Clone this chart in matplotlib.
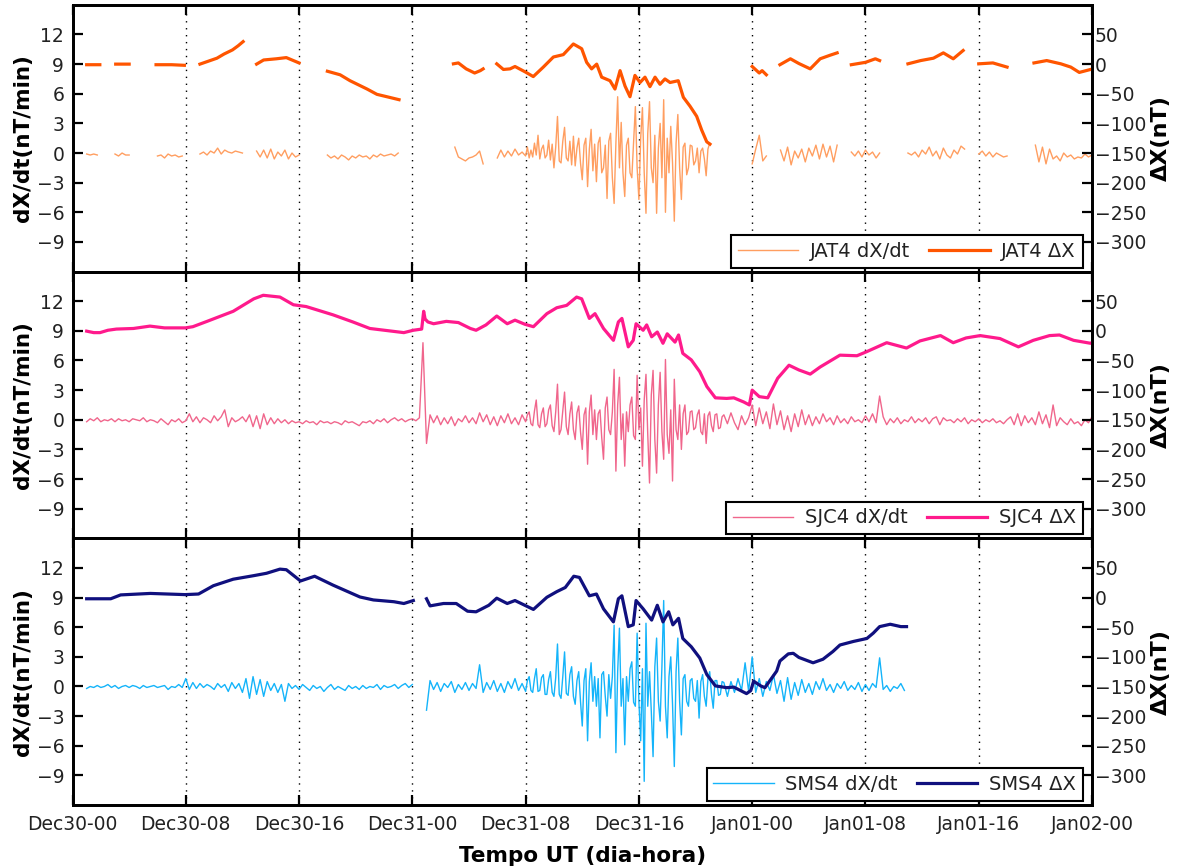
import numpy as np
import matplotlib
matplotlib.use('Agg')
import matplotlib.pyplot as plt

nan = np.nan

# x axis: hours since Dec30-00 UT
tick_hours = [0, 8, 16, 24, 32, 40, 48, 56, 64, 72]
tick_labels = ['Dec30-00', 'Dec30-08', 'Dec30-16', 'Dec31-00', 'Dec31-08',
               'Dec31-16', 'Jan01-00', 'Jan01-08', 'Jan01-16', 'Jan02-00']

# dX/dt (nT/min), one value every 15 min from Dec30-00 (289 values), nan = no data
jat_dxdt = [
    nan, nan, nan, nan, -0.1, -0.2, -0.1, -0.2, nan, nan, nan, nan, -0.1, -0.3, 0.0, -0.2,
    -0.2, *[nan] * 7, -0.3, -0.2, -0.5, -0.1, -0.3, -0.2, -0.4, -0.3,
    nan, nan, nan, nan, -0.1, 0.1, -0.2, 0.2, 0.0, 0.5, -0.1, 0.3, 0.1, 0.0, 0.2, 0.1,
    0.0, nan, nan, nan, 0.2, -0.4, 0.3, -0.5, 0.4, -0.6, 0.1, -0.3, 0.3, -0.6, 0.0, -0.4,
    -0.2, *[nan] * 7, -0.2, -0.5, -0.3, -0.6, -0.2, -0.4, -0.7, -0.3,
    -0.5, -0.2, -0.4, -0.3, -0.6, -0.2, -0.4, -0.1, -0.3, -0.2, -0.1, -0.3, 0.0, nan, nan, nan,
    *[nan] * 12, 0.6, -0.4, -0.6, -0.8,
    -0.5, -0.4, -0.2, 0.2, -1.1, nan, nan, nan, -0.5, 0.3, -0.4, 0.2, -0.3, 0.4, -0.2, 0.1,
    -0.3, 0.5, -0.4, 1.8, -0.2, 0.8, -0.6, 1.2, -1.5, 3.7, -1.0, 2.6, -0.8, 1.7, -1.3, 1.5,
    -2.7, 1.5, -3.4, 2.4, -2.9, 1.6, -1.5, -4.6, 2.0, -5.1, 5.7, 3.1, -4.4, 1.5, -2.5, 4.7,
    -4.7, 4.6, -6.1, 5.2, -3.0, -6.1, 3.0, 5.4, -6.0, 2.7, -6.9, 3.9, -4.7, 1.0, -1.5, 0.7,
    -0.8, -2.0, 0.5, -2.3, 1.0, *[nan] * 11,
    -1.1, 0.4, 1.8, -0.8, -0.3, nan, nan, nan, 0.3, -0.8, 0.6, -1.2, 0.2, -0.5, 0.4, -0.9,
    0.5, -0.3, 0.8, -0.6, 0.9, -0.4, 0.7, -0.9, 0.8, nan, nan, nan, 0.1, -0.3, 0.2, -0.4,
    0.3, -0.2, 0.1, -0.5, 0.0, *[nan] * 7, 0.0, -0.2, 0.1, -0.4,
    0.3, -0.1, 0.6, -0.3, 0.2, -0.6, 0.5, -0.2, -0.5, 0.3, -0.1, 0.7, 0.4, nan, nan, nan,
    -0.1, 0.2, -0.3, 0.1, -0.4, 0.0, -0.2, -0.4, -0.3, *[nan] * 7,
    0.8, -0.9, 0.6, -1.1, 0.4, -0.6, -0.3, -0.8, 0.0, -0.4, -0.2, -0.6, -0.4, -0.5, -0.1, -0.4,
    -0.2,
]
sjc_dxdt = [
    nan, nan, nan, nan, -0.2, 0.1, -0.1, 0.2, -0.2, 0.0, -0.1, 0.1, -0.2, 0.1, -0.1, 0.0,
    -0.2, 0.1, 0.0, -0.1, 0.2, -0.2, 0.0, -0.1, -0.3, 0.1, -0.2, -0.5, 0.0, -0.2, 0.1, -0.3,
    -0.1, 0.6, -0.2, 0.3, -0.3, 0.2, 0.0, -0.3, 0.4, -0.1, 0.3, 1.0, -0.7, 0.2, -0.2, 0.0,
    0.3, -0.2, 0.5, -0.7, 0.4, -0.9, 0.6, -0.5, 0.2, -0.4, 0.1, -0.3, 0.0, -0.4, -0.1, -0.3,
    -0.2, -0.4, -0.1, -0.3, -0.2, -0.5, -0.1, -0.3, -0.2, -0.4, -0.2, -0.3, -0.5, -0.1, -0.3, -0.2,
    -0.4, -0.6, -0.2, -0.3, -0.1, -0.4, 0.0, -0.2, 0.1, -0.3, 0.0, 0.2, -0.1, 0.1, -0.2, 0.0,
    0.1, -0.1, 0.2, 7.8, -2.4, 0.5, -0.3, 0.4, -0.5, 0.2, -0.4, 0.3, -0.6, 0.1, -0.2, 0.4,
    -0.3, 0.2, -0.4, 0.7, -0.2, 0.5, -0.5, 0.3, -0.6, 0.4, -0.3, 0.6, -0.4, 0.2, -0.5, 0.5,
    -0.2, 0.8, -0.6, 2.0, -0.8, 1.2, -0.4, 1.5, -1.2, 3.6, -1.0, 2.8, -1.5, 1.8, -2.0, 1.4,
    -3.0, 1.2, -4.5, 2.5, -2.0, 1.0, -4.0, 2.3, -1.5, 5.1, -5.2, 4.3, -4.7, -1.2, 2.3, -2.0,
    4.5, -4.7, 4.6, -6.4, 5.0, -5.4, 4.8, -4.0, 6.1, -3.4, -6.2, 4.1, -3.0, 1.5, -1.2, 0.9,
    -0.8, 1.0, -1.5, -2.4, 0.8, -1.2, 0.6, -0.8, 0.5, -0.4, 0.7, -0.3, -1.0, 0.4, -0.5, 0.2,
    1.5, -0.6, 1.2, -0.4, 0.8, -0.9, 1.6, -0.5, 0.9, -1.0, 0.4, -1.2, 0.6, -0.7, 1.0, -0.5,
    0.5, -0.6, 0.3, -0.4, 0.6, -0.2, 0.2, -0.5, 0.4, -0.3, 0.1, -0.4, 0.3, -0.2, 0.0, -0.3,
    0.4, -0.2, 0.6, -0.3, 2.4, 0.3, -0.5, 0.1, -0.3, 0.2, -0.4, 0.0, -0.2, 0.3, -0.3, 0.1,
    -0.2, 0.2, -0.4, 0.1, 0.3, -0.5, 0.2, -0.1, 0.0, -0.3, 0.1, -0.2, 0.2, -0.4, 0.0, -0.2,
    0.1, -0.3, 0.0, -0.2, 0.1, -0.3, -0.1, -0.4, 0.0, 0.3, -0.5, 0.6, -0.6, 0.4, -0.3, 0.2,
    -0.5, 0.8, -0.4, 0.5, -0.8, 1.5, -0.6, 0.2, -0.2, -0.5, 0.1, -0.4, -0.2, -0.6, 0.0, -0.3,
    0.3,
]
sms_dxdt = [
    nan, nan, nan, nan, -0.2, 0.0, -0.1, 0.1, -0.1, 0.0, 0.2, -0.1, 0.1, -0.2, 0.0, 0.1,
    -0.1, 0.1, 0.0, -0.2, 0.1, -0.1, 0.0, 0.1, -0.1, 0.0, 0.1, -0.3, 0.0, -0.1, 0.2, -0.1,
    0.8, -0.3, 0.4, -0.2, 0.3, -0.1, 0.2, 0.0, -0.3, 0.3, -0.1, 0.2, -0.5, 0.4, -0.2, 0.3,
    -0.6, 0.8, -1.2, 1.0, -0.8, 0.7, -1.0, 0.5, -0.4, 0.3, -0.6, 0.2, -1.5, 0.3, -0.2, 0.1,
    -0.3, 0.2, -0.1, -0.4, 0.1, -0.2, 0.0, -0.5, -0.1, 0.2, -0.3, 0.0, -0.2, -0.4, 0.1, -0.2,
    0.0, -0.3, 0.1, -0.2, 0.0, -0.1, 0.2, -0.3, 0.1, -0.1, 0.0, 0.2, -0.2, 0.1, 0.3, -0.1,
    0.2, nan, nan, nan, -2.4, 0.6, -0.3, 0.4, -0.5, 0.3, -0.1, 0.5, -0.6, 0.2, -0.3, 0.4,
    -0.4, 0.3, -0.2, 2.2, -0.6, 0.4, -0.3, 0.6, -0.5, 0.3, -0.6, 0.5, -0.2, 0.8, -0.4, 0.3,
    -0.5, 1.0, -0.6, 1.8, -0.4, 1.2, -0.8, 1.5, -1.0, 4.3, -1.2, 3.5, -0.9, 2.0, -1.8, 1.5,
    -4.0, 1.8, -5.5, 2.4, -2.0, -5.2, 1.5, -3.0, -1.2, 6.2, -6.7, 5.9, -5.9, -1.5, 2.5, -2.0,
    5.4, -5.5, -9.6, 6.4, -7.1, 4.9, -3.5, 8.7, -5.2, 3.0, -8.1, 4.9, -4.9, 1.2, -2.0, 0.8,
    -1.5, -3.2, 1.2, -2.0, 1.5, -2.2, 0.6, -0.8, 0.4, -1.0, 0.5, -0.6, 0.8, -0.4, 2.4, -0.5,
    3.0, -0.6, 0.8, -1.0, 0.5, -0.4, 1.2, -0.7, 0.6, -1.5, 0.9, -1.3, 0.4, -0.9, 0.7, -0.6,
    0.3, -0.8, 0.5, -0.3, 0.8, -0.4, 0.2, -0.6, 0.3, -0.2, 0.5, -0.4, 0.1, -0.3, 0.4, -0.5,
    0.2, -0.4, 0.3, -0.1, 2.9, -0.3, 0.1, -0.5, 0.0, -0.2, 0.3, -0.4, nan, nan, nan, nan,
    *[nan] * 48,
    nan,
]

# storm interval Dec31-08 .. Dec31-22: dX/dt every 7.5 min (113 values), replaces the grid above
jat_storm = [
    -0.3, 0.6, -0.5, 0.3, -0.4, 1.0, -0.2, 1.8,
    -0.6, 0.4, 0.8, -0.5, -0.2, 1.3, -0.7, 0.9,
    -1.5, 0.6, 3.7, -0.8, -1.0, 1.2, 2.6, -0.5,
    -0.8, 1.2, -1.2, 1.7, -1.3, 0.5, 1.5, -1.0,
    -2.7, 0.8, 1.5, -3.4, 0.4, 2.4, -1.8, 0.9,
    -2.9, 1.0, 1.6, -2.0, -1.5, 0.8, -4.6, 1.2,
    2.0, -2.5, -5.1, 1.0, 5.7, -1.5, 3.1, -2.0,
    -4.4, 0.8, 1.5, -2.0, -2.5, 1.2, 4.7, -1.5,
    -4.7, 1.5, 4.6, -2.0, -6.1, 2.0, 5.2, -1.5,
    -3.0, 1.8, -6.1, 0.5, 3.0, -2.5, 5.4, -6.0,
    1.5, -2.0, 2.7, -1.0, -6.9, 1.0, 3.9, -1.5,
    -4.7, 0.6, 1.0, -2.2, -1.5, 0.8, 0.7, -1.2,
    -0.8, 0.5, -2.0, 0.2, 0.5, -0.6, -2.3, 0.4,
    1.0, *[nan] * 7,
    nan,
]
sjc_storm = [
    -0.2, 0.5, 0.8, -0.4, -0.6, 0.9, 2.0, -0.5,
    -0.8, 0.6, 1.2, -0.7, -0.4, 1.0, 1.5, -0.6,
    -1.2, 0.8, 3.6, -1.5, -1.0, 0.9, 2.8, -0.7,
    -1.5, 0.6, 1.8, -1.0, -2.0, 0.7, 1.4, -1.2,
    -3.0, 0.5, 1.2, -4.5, 0.8, 2.5, -1.5, 1.0,
    -2.0, 0.6, 1.0, -1.8, -4.0, 1.2, 2.3, -1.0,
    -1.5, 0.8, 5.1, -5.2, 1.5, 4.3, -2.0, 0.6,
    -4.7, 0.8, -1.2, 1.5, 2.3, -1.6, -2.0, 4.5,
    -1.0, 1.2, -4.7, 2.0, 4.6, -1.5, -6.4, 2.5,
    5.0, -2.0, -5.4, 1.5, 4.8, -1.2, -4.0, 6.1,
    -1.5, -3.4, 1.0, -6.2, 4.1, -1.0, -2.0, 1.5,
    -3.0, 0.6, 1.5, -1.5, -1.2, 0.8, 0.9, -1.0,
    -0.8, 0.5, 1.0, -1.2, -1.5, 0.6, -2.4, 0.4,
    0.8, -0.6, -1.2, 0.5, 0.6, -0.9, -0.8, 0.3,
    0.5,
]
sms_storm = [
    -0.5, 0.6, 1.0, -0.4, -0.6, 0.8, 1.8, -0.5,
    -0.4, 0.9, 1.2, -0.8, -0.8, 0.7, 1.5, -0.6,
    -1.0, 0.9, 4.3, -0.8, -1.2, 1.0, 3.5, -0.7,
    -0.9, 1.2, 2.0, -1.0, -1.8, 0.6, 1.5, -1.5,
    -4.0, 0.6, 1.8, -5.5, 0.5, 2.4, -1.5, 1.0,
    -2.0, 0.8, -5.2, 1.2, 1.5, -1.0, -3.0, 1.2,
    -1.2, 1.0, 6.2, -6.7, 1.5, 5.9, -2.0, 0.8,
    -5.9, 1.0, -1.5, 1.8, 2.5, -1.6, -2.0, 5.4,
    -1.5, -5.5, 1.8, -9.6, 6.4, -2.0, 1.5, -2.5,
    -7.1, 2.0, 4.9, -1.5, -3.5, 2.0, 8.7, -2.0,
    -5.2, 1.0, 3.0, -1.8, -8.1, 1.5, 4.9, -1.5,
    -4.9, 0.8, 1.2, -1.5, -2.0, 0.6, 0.8, -1.2,
    -1.5, 0.6, -3.2, 0.5, 1.2, -1.0, -2.0, 0.8,
    1.5, -0.8, -2.2, 0.6, 0.6, -0.9, -0.8, 0.5,
    0.4,
]

# Delta X (nT) as (hour, value) pairs, a nan pair breaks the line
jat_dx = [
    (1.0, -1), (1.93, -1), (nan, nan), (3.05, 0), (4.0, 0), (nan, nan),
    (5.9, -1), (7.0, -1), (7.9, -2), (nan, nan),
    (9.0, 0), (9.6, 5), (10.2, 10), (10.7, 17), (11.3, 24), (11.7, 31), (12.05, 38), (nan, nan),
    (13.0, 0), (13.5, 7), (14.4, 9), (15.1, 11), (15.6, 6), (16.0, 2), (nan, nan),
    (18.0, -12), (18.9, -18), (19.6, -28), (20.8, -42), (21.5, -51), (22.2, -55), (23.06, -60), (nan, nan),
    (26.9, 0.5), (27.25, 2), (27.8, -8), (28.4, -15), (28.8, -11), (29.0, -8), (nan, nan),
    (29.96, 0.5), (30.43, -9), (30.9, -8), (31.25, -4), (31.96, -13), (32.54, -21), (33.25, -5),
    (33.96, 12), (34.66, 16), (35.37, 34), (35.96, 26), (36.31, 3), (36.66, -8), (37.02, 0),
    (37.37, -22), (37.96, -28), (38.31, -42), (38.67, -11), (39.02, -37), (39.37, -55),
    (39.72, -19), (40.08, -31), (40.43, -22), (40.78, -38), (41.14, -22), (41.49, -34),
    (41.84, -25), (42.2, -31), (42.78, -28), (43.14, -56), (43.61, -71), (44.08, -88),
    (44.43, -111), (44.79, -131), (45.02, -135), (nan, nan),
    (48.0, -4), (48.5, -15), (48.7, -11), (49.0, -18), (nan, nan),
    (49.96, -1), (50.7, 9), (51.3, 1), (52.1, -8), (52.8, 9), (53.5, 15), (54.0, 19), (nan, nan),
    (55.0, -1), (56.0, 3), (56.7, 9), (57.0, 6), (nan, nan),
    (59.0, 0.5), (59.9, 6), (60.8, 10), (61.5, 19), (62.2, 9), (62.9, 23), (nan, nan),
    (64.0, 0.5), (65.0, 2), (66.0, -5), (nan, nan),
    (67.9, 2), (68.8, 6), (69.8, 0.5), (70.5, -5), (71.1, -14), (71.9, -9),
]
sjc_dx = [
    (1.0, -0.5), (1.5, -3), (1.94, -3), (2.5, 1), (3.1, 3), (4.3, 4), (5.47, 8), (6.5, 5),
    (7.97, 5), (8.5, 7), (9.5, 16), (11.35, 33),
    (12.8, 54), (13.47, 60), (14.65, 57), (15.6, 44), (16.5, 41), (18.4, 27), (19.8, 15),
    (21.0, 4), (22.2, 0.5), (23.4, -3), (24.07, 1), (24.66, 3), (24.8, 33), (24.9, 20),
    (25.1, 15), (25.5, 12), (26.4, 16), (27.25, 14), (28.1, 4), (28.5, 1), (29.2, 10),
    (29.96, 25), (30.7, 12), (31.25, 18), (31.96, 11), (32.55, 7), (33.5, 29), (34.2, 39),
    (34.9, 43), (35.6, 57), (35.96, 54), (36.5, 21), (36.9, 29), (37.5, 4), (38.2, -16),
    (38.55, 15), (38.8, 21), (39.25, -27), (39.6, -16), (39.8, 12), (40.3, 1), (40.55, 10),
    (40.9, -10), (41.3, -2), (41.7, -21), (42.0, -5), (42.55, -19), (42.8, -7), (43.1, -38),
    (43.7, -49), (44.3, -69), (44.8, -94), (45.4, -113), (46.2, -114), (46.7, -113),
    (47.4, -120), (47.8, -125), (48.0, -100), (48.5, -111), (49.1, -113), (49.8, -80),
    (50.6, -58), (51.3, -66), (52.1, -73), (52.8, -61), (54.2, -41), (55.4, -42), (56.1, -35),
    (57.5, -20), (58.9, -29), (59.85, -17), (61.3, -8), (62.2, -20), (63.1, -12), (64.1, -8),
    (65.5, -13), (66.8, -27), (67.85, -16), (69.0, -8), (69.7, -7), (70.7, -16), (71.9, -21),
    (72.0, -20),
]
sms_dx = [
    (1.0, -2), (2.7, -2), (3.4, 4.5), (5.5, 7), (7.95, 5), (8.9, 6), (9.95, 20), (11.35, 31),
    (12.8, 37), (13.7, 41), (14.65, 48), (15.1, 47), (16.1, 28), (17.1, 36), (18.4, 21),
    (20.3, 1), (21.25, -4), (22.7, -7), (23.4, -10), (24.07, -5), (nan, nan),
    (25.0, -2), (25.25, -14), (26.2, -10), (27.1, -10), (27.9, -23), (28.5, -24), (29.4, -13),
    (29.96, -1), (30.7, -10), (31.25, -5), (32.55, -20), (33.5, 0.5), (34.2, 10), (34.8, 17),
    (35.4, 36), (35.8, 34), (36.5, 3), (37.0, 6), (37.5, -19), (38.2, -41), (38.55, -2),
    (38.8, 3), (39.25, -49), (39.6, -46), (39.8, -5), (40.3, -19), (40.9, -38), (41.3, -13),
    (41.7, -41), (42.1, -24), (42.4, -46), (42.8, -35), (43.1, -69), (43.7, -83), (44.3, -102),
    (44.8, -130), (45.4, -149), (46.2, -152), (46.7, -151), (47.6, -162), (47.9, -157),
    (48.1, -141), (48.6, -149), (48.9, -152), (49.73, -124), (49.96, -107), (50.55, -95),
    (50.9, -94), (51.3, -101), (52.3, -110), (53.0, -104), (53.7, -91), (54.2, -80),
    (55.15, -74), (56.1, -69), (56.55, -60), (57.0, -49), (57.75, -45), (58.5, -49), (58.9, -49),
]

stations = [
    ('JAT4', jat_dxdt, jat_storm, jat_dx, '#ff9e60', '#ff5500'),
    ('SJC4', sjc_dxdt, sjc_storm, sjc_dx, '#f0668c', '#ff1a8c'),
    ('SMS4', sms_dxdt, sms_storm, sms_dx, '#14b4fa', '#10107e'),
]

t_grid = np.arange(289) * 0.25
t_storm = 32 + np.arange(113) * 0.125
outside = (t_grid < 32) | (t_grid > 46)
text_c = '#222222'

fig = plt.figure(figsize=(11.77, 8.66), dpi=100)
left, width, height = 0.0616, 0.8662, 0.308
bottoms = [0.6864, 0.3784, 0.0704]

for i, (name, dxdt, storm, dx, c_rate, c_dx) in enumerate(stations):
    ax = fig.add_axes([left, bottoms[i], width, height])
    ax2 = ax.twinx()

    # merge the 15-min grid with the finer storm samples, in time order
    t = np.concatenate([t_grid[outside], t_storm])
    v = np.concatenate([np.array(dxdt)[outside], storm])
    order = np.argsort(t, kind='stable')
    dx = np.array(dx, dtype=float)

    l1, = ax.plot(t[order], v[order], color=c_rate, lw=1.0)
    l2, = ax2.plot(dx[:, 0], dx[:, 1], color=c_dx, lw=2.3)

    ax.set_xlim(0, 72)
    ax.set_ylim(-12, 15)
    ax2.set_ylim(-350, 100)
    ax.set_xticks(tick_hours)
    ax.set_xticklabels(tick_labels)
    ax.set_yticks(range(-9, 13, 3))
    ax2.set_yticks(range(-300, 51, 50))
    ax.xaxis.grid(True, color='k', lw=1.0, linestyle=(0, (1, 4)))

    ax.tick_params(axis='x', direction='in', length=7, width=1.6, top=True,
                   labelsize=13.5, labelcolor=text_c, pad=7, labelbottom=(i == 2))
    ax.tick_params(axis='y', direction='in', length=7, width=1.6,
                   labelsize=13.5, labelcolor=text_c, pad=6)
    ax2.tick_params(axis='y', direction='in', length=7, width=1.6,
                    labelsize=13.5, labelcolor=text_c, pad=2)
    for a in (ax, ax2):
        for s in a.spines.values():
            s.set_linewidth(2.0)

    ax.set_ylabel('dX/dt(nT/min)', fontsize=15.5, fontweight='bold')
    ax.yaxis.set_label_coords(-0.039, 0.5)
    ax2.set_ylabel('\u0394X(nT)', fontsize=16, fontweight='bold')
    ax2.yaxis.set_label_coords(1.058, 0.5)

    leg = ax2.legend([l1, l2], [name + ' dX/dt', name + ' \u0394X'], loc='lower right',
                     bbox_to_anchor=(0.991, 0.015), borderaxespad=0, ncol=2, fontsize=14,
                     handlelength=3.1, handletextpad=0.6, columnspacing=1.0, borderpad=0.35,
                     fancybox=False, edgecolor='k', framealpha=1, labelcolor=text_c)
    leg.get_frame().set_linewidth(1.5)

    if i == 2:
        ax.set_xlabel('Tempo UT (dia-hora)', fontsize=15.5, fontweight='bold')
        ax.xaxis.set_label_coords(0.5, -0.155)

fig.savefig('out.png', dpi=100)
